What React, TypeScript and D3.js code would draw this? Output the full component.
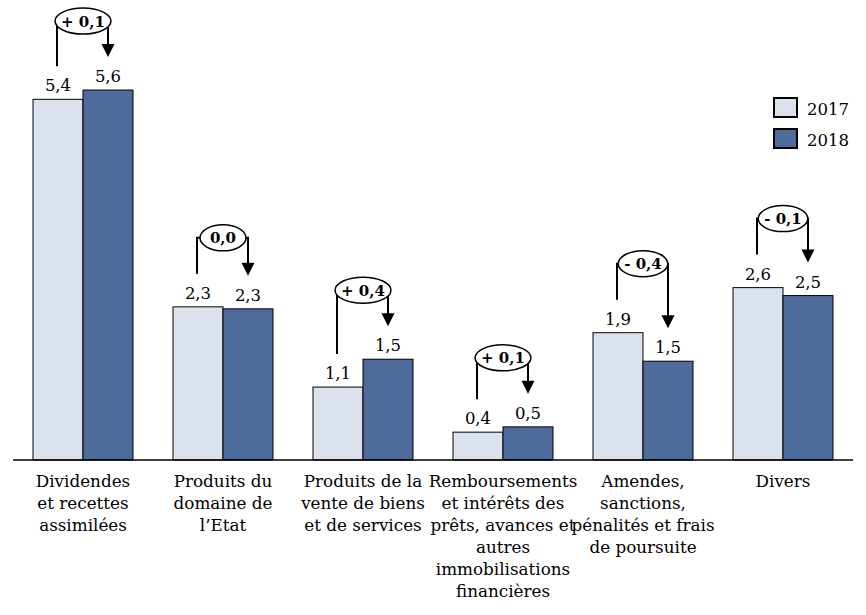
import React from "react";
import * as d3 from "d3";

const categories: string[][] = [
  ["Dividendes", "et recettes", "assimilées"],
  ["Produits du", "domaine de", "l’Etat"],
  ["Produits de la", "vente de biens", "et de services"],
  ["Remboursements", "et intérêts des", "prêts, avances et", "autres", "immobilisations", "financières"],
  ["Amendes,", "sanctions,", "pénalités et frais", "de poursuite"],
  ["Divers"],
];
const values2017 = [5.44, 2.31, 1.1, 0.42, 1.92, 2.6];
const values2018 = [5.58, 2.28, 1.52, 0.5, 1.49, 2.48];
const deltaLabels = ["+ 0,1", "0,0", "+ 0,4", "+ 0,1", "- 0,4", "- 0,1"];
const seriesNames = ["2017", "2018"];

const W = 866;
const H = 615;
const FONT = "'DejaVu Serif', serif";
const C2017 = "#dce2ed";
const C2018 = "#4d6b9b";

const fmt = (v: number) => d3.format(".1f")(v).replace(".", ",");

let ctx: CanvasRenderingContext2D | null = null;
function measure(text: string, font: string): number {
  if (!ctx) {
    const c = document.createElement("canvas");
    ctx = c.getContext("2d");
  }
  if (!ctx) return text.length * 8;
  ctx.font = font;
  return ctx.measureText(text).width;
}

export default function App() {
  const x0 = d3
    .scaleBand<number>()
    .domain(d3.range(categories.length))
    .range([13, 853])
    .paddingInner(0)
    .paddingOuter(0);
  const x1 = d3.scaleBand<number>().domain([0, 1]).range([20, 120]);
  const y = d3.scaleLinear().domain([0, 6]).range([460, 460 - 6 * 66.3]);

  const bw = x1.bandwidth();

  return (
    <div style={{ position: "absolute", left: 0, top: 0 }}>
      <svg width={W} height={H} style={{ display: "block", background: "#fff" }} fontFamily={FONT}>
        {categories.map((_, i) => {
          const gx = x0(i)!;
          const v = [values2017[i], values2018[i]];
          const cxL = gx + x1(0)! + bw / 2 - 1;
          const cxR = gx + x1(1)! + bw / 2;
          const gc = gx + x0.bandwidth() / 2;
          const yL = y(v[0]) - 33;
          const yR = y(v[1]) - 33;
          const ye = y(Math.max(v[0], v[1])) - 69;
          const tw = measure(deltaLabels[i], `bold 15px ${FONT}`);
          const rx = Math.max(23, tw / 2 + 6);
          const ry = 13;
          return (
            <g key={i}>
              {v.map((val, s) => (
                <g key={s}>
                  <rect
                    x={gx + x1(s)!}
                    y={y(val)}
                    width={bw}
                    height={y(0) - y(val)}
                    fill={s === 0 ? C2017 : C2018}
                    stroke="#000"
                    strokeWidth={1}
                  />
                  <text
                    x={gx + x1(s)! + bw / 2}
                    y={y(val) - 8}
                    textAnchor="middle"
                    fontSize={16.5}
                    fill="#000"
                  >
                    {fmt(val)}
                  </text>
                </g>
              ))}
              <path
                d={`M${cxL},${yL}V${ye}H${gc}`}
                fill="none"
                stroke="#000"
                strokeWidth={2}
              />
              <path
                d={`M${cxR},${yR - 12}V${ye}H${gc}`}
                fill="none"
                stroke="#000"
                strokeWidth={2}
              />
              <path
                d={`M${cxR - 6.5},${yR - 13}L${cxR + 6.5},${yR - 13}L${cxR},${yR}Z`}
                fill="#000"
              />
              <ellipse cx={gc} cy={ye} rx={rx} ry={ry} fill="#fff" stroke="#000" strokeWidth={1.5} />
              <text
                x={gc}
                y={ye + 5.5}
                textAnchor="middle"
                fontSize={15}
                fontWeight="bold"
                fill="#000"
              >
                {deltaLabels[i]}
              </text>
              <text textAnchor="middle" fontSize={16.8} fill="#000">
                {categories[i].map((line, k) => (
                  <tspan key={k} x={gc} y={487 + k * 22}>
                    {line}
                  </tspan>
                ))}
              </text>
            </g>
          );
        })}
        <line x1={13} x2={853} y1={y(0)} y2={y(0)} stroke="#000" strokeWidth={1.5} />
        {seriesNames.map((name, s) => (
          <g key={name}>
            <rect
              x={774}
              y={98 + s * 31}
              width={23}
              height={19}
              fill={s === 0 ? C2017 : C2018}
              stroke="#000"
              strokeWidth={2}
            />
            <text x={807} y={115 + s * 31} fontSize={16.5} fill="#000">
              {name}
            </text>
          </g>
        ))}
      </svg>
    </div>
  );
}
